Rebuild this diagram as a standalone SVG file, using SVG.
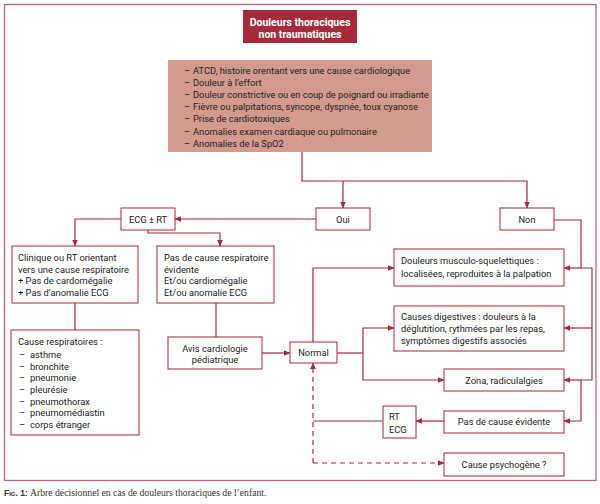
<svg xmlns="http://www.w3.org/2000/svg" width="600" height="504" viewBox="0 0 600 504">
<defs>
<style>
.frame{fill:none;stroke:#c2637a;stroke-width:1.3}
.box{fill:#fff;stroke:#b0384f;stroke-width:1.1}
.t{font-family:Roboto,"Liberation Sans",sans-serif;font-size:9.3px;fill:#222}
.c{text-anchor:middle}
.ttl{font-family:Roboto,"Liberation Sans",sans-serif;font-size:10.5px;font-weight:bold;fill:#fff;text-anchor:middle}
.ln{fill:none;stroke:#a8283c;stroke-width:1.2}
.arr{marker-end:url(#ah)}
.dash{stroke-dasharray:5 4}
</style>
<marker id="ah" viewBox="0 0 8 8" refX="7.5" refY="4" markerWidth="6.5" markerHeight="6.5" markerUnits="userSpaceOnUse" orient="auto">
<path d="M0,0.5 L8,4 L0,7.5 z" fill="#a8283c"/>
</marker>
</defs>
<rect width="600" height="504" fill="#fff"/>
<rect class="frame" x="4.5" y="4.5" width="591.5" height="476"/>

<g id="title">
<rect x="243" y="10" width="114" height="33" fill="#a52a3a"/>
<text class="ttl" x="300" y="26">Douleurs thoraciques</text>
<text class="ttl" x="300" y="38">non traumatiques</text>
</g>

<g id="criteria">
<rect x="168" y="60" width="264" height="92" fill="#d49a8e"/>
<g class="t">
<text x="184" y="74">–</text><text x="193" y="74">ATCD, histoire orentant vers une cause cardiologique</text>
<text x="184" y="86.1">–</text><text x="193" y="86.1">Douleur à l’effort</text>
<text x="184" y="98.2">–</text><text x="193" y="98.2">Douleur constrictive ou en coup de poignard ou irradiante</text>
<text x="184" y="110.3">–</text><text x="193" y="110.3">Fièvre ou palpitations, syncope, dyspnée, toux cyanose</text>
<text x="184" y="122.4">–</text><text x="193" y="122.4">Prise de cardiotoxiques</text>
<text x="184" y="134.5">–</text><text x="193" y="134.5">Anomalies examen cardiaque ou pulmonaire</text>
<text x="184" y="146.6">–</text><text x="193" y="146.6">Anomalies de la SpO2</text>
</g>
</g>

<g id="oui"><rect class="box" x="316" y="208" width="54" height="22"/><text class="t c" x="343" y="222.5">Oui</text></g>
<g id="non"><rect class="box" x="500" y="208" width="54" height="22"/><text class="t c" x="527" y="222.5">Non</text></g>
<g id="ecg"><rect class="box" x="121" y="208" width="54" height="22"/><text class="t c" x="148" y="222.5">ECG ± RT</text></g>

<g id="clinique"><rect class="box" x="12" y="246" width="126" height="57"/>
<g class="t"><text x="18" y="261">Clinique ou RT orientant</text><text x="18" y="272.5">vers une cause respiratoire</text><text x="18" y="284">+ Pas de cardomégalie</text><text x="18" y="295.5">+ Pas d’anomalie ECG</text></g></g>

<g id="pasresp"><rect class="box" x="157" y="246" width="117" height="57"/>
<g class="t"><text x="164" y="261">Pas de cause respiratoire</text><text x="164" y="272.5">évidente</text><text x="164" y="284">Et/ou cardiomégalie</text><text x="164" y="295.5">Et/ou anomalie ECG</text></g></g>

<g id="causeresp"><rect class="box" x="11" y="330" width="128" height="105"/>
<g class="t"><text x="18" y="344.5">Cause respiratoires :</text>
<text x="19" y="357.8">–</text><text x="30" y="357.8">asthme</text>
<text x="19" y="369.5">–</text><text x="30" y="369.5">bronchite</text>
<text x="19" y="381.2">–</text><text x="30" y="381.2">pneumonie</text>
<text x="19" y="392.9">–</text><text x="30" y="392.9">pleurésie</text>
<text x="19" y="404.6">–</text><text x="30" y="404.6">pneumothorax</text>
<text x="19" y="416.3">–</text><text x="30" y="416.3">pneumomédiastin</text>
<text x="19" y="428">–</text><text x="30" y="428">corps étranger</text></g></g>

<g id="avis"><rect class="box" x="168" y="337" width="94" height="32"/>
<text class="t c" x="215" y="351.5">Avis cardiologie</text><text class="t c" x="215" y="363.3">pédiatrique</text></g>

<g id="normal"><rect class="box" x="290" y="342" width="47" height="21"/><text class="t c" x="313.5" y="356">Normal</text></g>

<g id="musculo"><rect class="box" x="394" y="249" width="170" height="37"/>
<text class="t" x="401" y="264">Douleurs musculo-squelettiques :</text><text class="t" x="401" y="276.5">localisées, reproduites à la palpation</text></g>

<g id="digestives"><rect class="box" x="394" y="306" width="170" height="45"/>
<text class="t" x="401" y="319.5">Causes digestives : douleurs à la</text><text class="t" x="401" y="331.5">déglutition, rythmées par les repas,</text><text class="t" x="401" y="343.5">symptômes digestifs associés</text></g>

<g id="zona"><rect class="box" x="444" y="369" width="120" height="22"/><text class="t c" x="504" y="383.5">Zona, radiculalgies</text></g>
<g id="pascause"><rect class="box" x="444" y="411" width="120" height="22"/><text class="t c" x="504" y="425">Pas de cause évidente</text></g>
<g id="psycho"><rect class="box" x="444" y="453" width="120" height="23"/><text class="t c" x="504" y="467.5">Cause psychogène ?</text></g>
<g id="rtecg"><rect class="box" x="383" y="406" width="33" height="32"/><text class="t" x="389" y="419.5">RT</text><text class="t" x="389" y="432.5">ECG</text></g>

<g id="connectors">
<path class="ln arr" d="M302,152 V181 H527 V208"/>
<path class="ln arr" d="M343,181 V208"/>
<path class="ln arr" d="M316,219 H175"/>
<path class="ln arr" d="M121,219 H75 V246"/>
<path class="ln arr" d="M148,230 V233 H220 V246"/>
<path class="ln" d="M75,303 V330"/>
<path class="ln" d="M216,303 V337"/>
<path class="ln arr" d="M262,353 H290"/>
<path class="ln arr" d="M313,342 V268 H394"/>
<path class="ln" d="M337,353 H363"/>
<path class="ln arr" d="M363,353 V328 H394"/>
<path class="ln arr" d="M363,353 V380 H444"/>
<path class="ln arr" d="M554,220 H581 V268 H592 V380 H581 V421 H564"/>
<path class="ln arr" d="M581,268 H564"/>
<path class="ln arr" d="M592,328 H564"/>
<path class="ln arr" d="M581,380 H564"/>
<path class="ln arr" d="M444,421 H416"/>
<path class="ln" d="M383,421 H313"/>
<path class="ln dash arr" d="M313,463 V363"/>
<path class="ln dash arr" d="M313,463 H444"/>
</g>

<g id="caption">
<text x="4" y="496" style="font-family:'Liberation Sans',sans-serif;font-size:8.5px;font-weight:bold;fill:#333;font-variant:small-caps">Fig. 1:</text>
<text x="30" y="496" style="font-family:'Liberation Serif',serif;font-size:9.7px;fill:#333">Arbre décisionnel en cas de douleurs thoraciques de l’enfant.</text>
</g>
</svg>
